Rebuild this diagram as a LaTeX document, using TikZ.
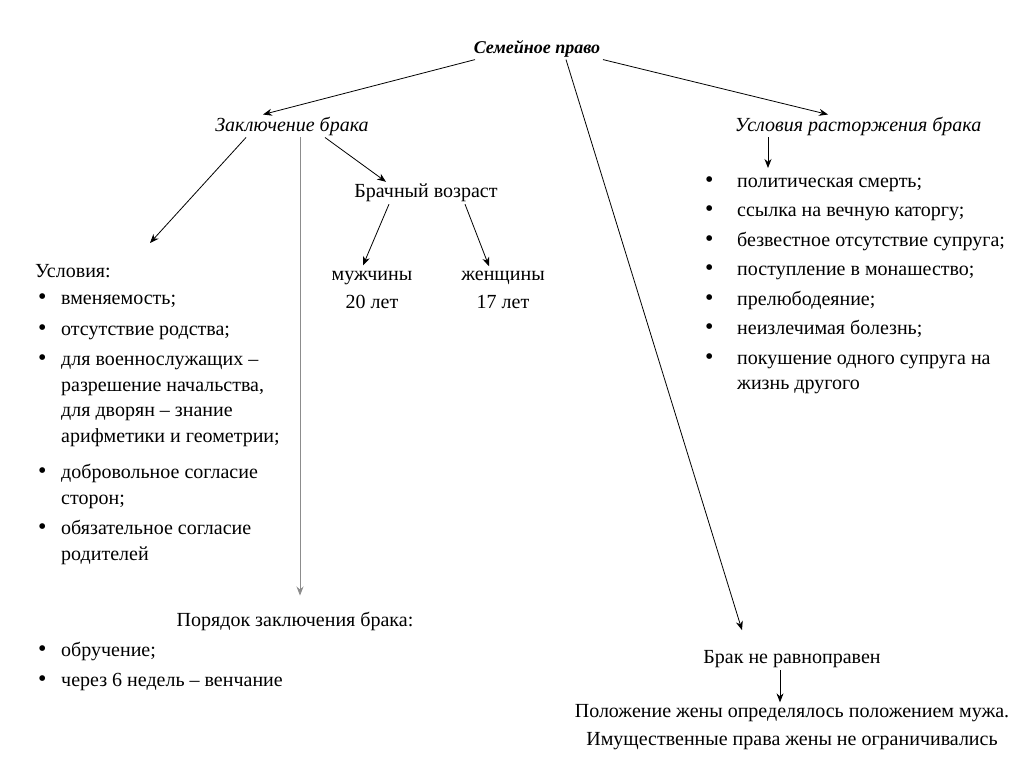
\documentclass[tikz,border=0pt]{standalone}
\usepackage{fontspec}
\setmainfont{Liberation Serif}
\usetikzlibrary{arrows.meta}
\tikzset{
	label/.style = {align=center, inner sep=2pt, font=\fontsize{20}{27.5}\selectfont},
	heading/.style = {label, font=\fontsize{20}{27.5}\selectfont\itshape},
	title/.style = {label, font=\fontsize{18}{25}\selectfont\bfseries\itshape},
	listing/.style = {align=left, inner sep=0pt, font=\fontsize{20}{25.5}\selectfont},
	arr/.style = {-{Stealth[length=9pt,width=7pt]}, line width=0.8pt},
	faint/.style = {arr, draw=black!45}
}
\newcommand{\itm}[1][23pt]{\makebox[#1][l]{\fontsize{24}{0}\selectfont\textbullet}}
\newcommand{\cnt}[1][23pt]{\hspace*{#1}}

\begin{document}
\begin{tikzpicture}[x=1pt, y=-1pt]
\useasboundingbox (0,0) rectangle (1024,767);
\node [title] (root) at (537,49) {Семейное право};
\node [heading] (marriage) at (292,126) {Заключение брака};
\node [heading] (divorce) at (858,126) {Условия расторжения брака};
\node [label] (age) at (426,193) {Брачный возраст};
\node [label] (men) at (372,290) {мужчины\\20 лет};
\node [label] (women) at (503,290) {женщины\\17 лет};
\node [listing, anchor=north west] (conds) at (38,264) {\hspace*{-3pt}Условия:\\[2pt]
	\itm вменяемость;\\[5pt]
	\itm отсутствие родства;\\[5pt]
	\itm для военнослужащих –\\
	\cnt разрешение начальства,\\
	\cnt для дворян – знание\\
	\cnt арифметики и геометрии;\\[11pt]
	\itm добровольное согласие\\
	\cnt сторон;\\[5pt]
	\itm обязательное согласие\\
	\cnt родителей};
\node [label] (order) at (295,621) {Порядок заключения брака:};
\node [listing, anchor=north west] (steps) at (38,642) {\itm обручение;\\[4pt]
	\itm через 6 недель – венчание};
\node [listing, anchor=north west] (grounds) at (705,176) {\itm[27pt] политическая смерть;\\[4pt]
	\itm[27pt] ссылка на вечную каторгу;\\[4pt]
	\itm[27pt] безвестное отсутствие супруга;\\[4pt]
	\itm[27pt] поступление в монашество;\\[4pt]
	\itm[27pt] прелюбодеяние;\\[4pt]
	\itm[27pt] неизлечимая болезнь;\\[4pt]
	\itm[27pt] покушение одного супруга на\\
	\cnt[27pt] жизнь другого};
\node [label] (unequal) at (792,659) {Брак не равноправен};
\node [label] (status) at (792,727) {Положение жены определялось положением мужа.\\
	Имущественные права жены не ограничивались};
\draw [arr] ([xshift=-62pt]root.south) -- ([xshift=-29pt]marriage.north);
\draw [arr] ([xshift=66pt]root.south) -- ([xshift=-30pt]divorce.north);
\draw [arr] ([xshift=29pt]root.south) -- ([xshift=-50pt,yshift=18pt]unequal.north);
\draw [arr] ([xshift=-46pt]marriage.south) -- ([xshift=112pt,yshift=21pt]conds.north west);
\draw [faint] ([xshift=8pt]marriage.south) -- ([xshift=5pt,yshift=14pt]order.north);
\draw [arr] ([xshift=33pt]marriage.south) -- ([xshift=-40pt]age.north);
\draw [arr] ([xshift=-37pt]age.south) -- ([xshift=-9pt,yshift=4pt]men.north);
\draw [arr] ([xshift=39pt]age.south) -- ([xshift=-14pt,yshift=3pt]women.north);
\draw [arr] ([xshift=-90pt]divorce.south) -- ([xshift=63pt,yshift=8pt]grounds.north west);
\draw [arr] ([xshift=-12pt]unequal.south) -- ([xshift=-12pt]status.north);
\end{tikzpicture}
\end{document}
